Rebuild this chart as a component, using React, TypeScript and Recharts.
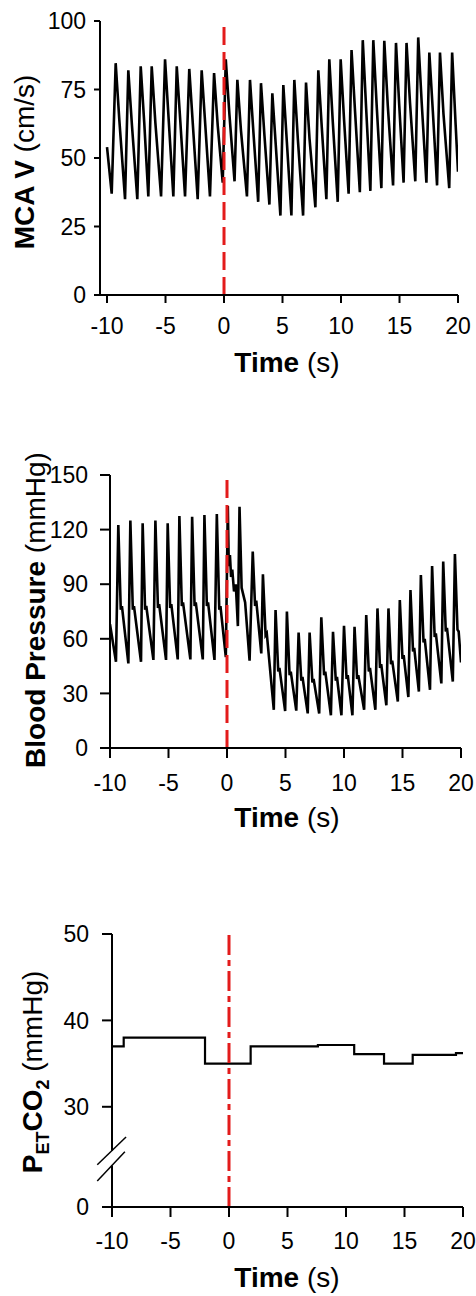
import { LineChart, Line, XAxis, YAxis, ReferenceLine } from 'recharts'

// time axis shared by the three panels
const timeTicks = [-10, -5, 0, 5, 10, 15, 20]
const mcaTicks = [0, 25, 50, 75, 100]
const bpTicks = [0, 30, 60, 90, 120, 150]
// the lowest tick sits below the axis break and is labelled "0"
const co2Ticks = [18.4, 30, 40, 50]

// MCA velocity trace (cm/s), [time s, value]
const mcaTrace: [number, number][] = [
  [-10, 54], [-9.6, 37], [-9.26, 84.6], [-8.95, 64], [-8.46, 35], [-8.18, 82], [-7.87, 62],
  [-7.41, 35], [-7.12, 83.5], [-6.82, 63], [-6.47, 36], [-6.18, 83.5], [-5.87, 63],
  [-5.38, 36], [-5.04, 86], [-4.73, 64], [-4.33, 36], [-4.04, 83.5], [-3.73, 63],
  [-3.33, 36], [-2.97, 82.5], [-2.66, 62], [-2.25, 35], [-1.91, 82], [-1.6, 62],
  [-1.2, 36], [-0.85, 81], [-0.54, 62], [-0.11, 41], [0.15, 86], [0.46, 66],
  [0.9, 41.5], [1.14, 78.5], [1.45, 60], [1.96, 36], [2.22, 78.5], [2.52, 59],
  [2.92, 34], [3.16, 77.3], [3.46, 58], [3.88, 33], [4.13, 73.6], [4.42, 55],
  [4.82, 29], [5.07, 76.6], [5.37, 56], [5.76, 29], [6.01, 78.5], [6.31, 57],
  [6.76, 29], [7.01, 77.5], [7.31, 57], [7.81, 32], [8.06, 82], [8.36, 61],
  [8.75, 35], [9.0, 86], [9.3, 63], [9.72, 34], [9.97, 86], [10.26, 64],
  [10.65, 37], [10.9, 89.4], [11.2, 67], [11.61, 37.5], [11.86, 93], [12.15, 68],
  [12.51, 38], [12.76, 93], [13.05, 69], [13.45, 39], [13.7, 92.8], [14.0, 69],
  [14.45, 40], [14.7, 92], [14.98, 69], [15.35, 41], [15.6, 92], [15.9, 70],
  [16.35, 41.5], [16.6, 94], [16.9, 70], [17.3, 41], [17.55, 88.5], [17.85, 67],
  [18.21, 40], [18.46, 88.5], [18.76, 66], [19.25, 39], [19.5, 88.5], [19.8, 62],
  [20, 45],
]

// blood pressure trace (mmHg), [time s, value]
const bpTrace: [number, number][] = [
  [-10, 68], [-9.49, 47.4], [-9.29, 122.5], [-9.08, 76], [-8.98, 78],
  [-8.43, 46.5], [-8.26, 125], [-8.05, 76], [-7.95, 78],
  [-7.35, 47.4], [-7.21, 123.5], [-7.0, 76], [-6.9, 78],
  [-6.29, 48.4], [-6.12, 125], [-5.9, 77], [-5.8, 79],
  [-5.21, 48.4], [-5.07, 123.5], [-4.86, 77], [-4.76, 79],
  [-4.21, 48.7], [-4.07, 127.5], [-3.86, 78], [-3.76, 80],
  [-3.13, 48.7], [-2.98, 127], [-2.77, 78], [-2.67, 80],
  [-2.07, 48.7], [-1.93, 128], [-1.72, 78], [-1.62, 80],
  [-1.07, 48.4], [-0.87, 128.6], [-0.66, 76], [-0.56, 78],
  [-0.1, 50], [0.07, 133], [0.15, 100], [0.25, 106], [0.35, 94], [0.45, 98],
  [0.6, 86], [0.75, 90], [0.93, 67], [1.07, 132.6], [1.25, 88], [1.4, 84],
  [1.55, 80], [1.93, 48], [2.2, 108], [2.4, 78], [2.5, 81],
  [2.93, 52], [3.07, 95.4], [3.3, 62], [3.4, 63],
  [4.0, 21], [4.15, 75.8], [4.38, 42], [4.48, 44],
  [4.97, 20.3], [5.12, 75], [5.35, 40], [5.45, 42],
  [5.92, 20.5], [6.12, 63.4], [6.35, 37], [6.45, 39],
  [6.9, 19], [7.06, 63.4], [7.3, 36], [7.4, 38],
  [7.88, 19], [8.06, 71.8], [8.3, 40], [8.4, 42],
  [8.88, 18], [9.06, 63.9], [9.3, 37], [9.4, 39],
  [9.78, 18], [10.0, 67.2], [10.22, 38], [10.32, 40],
  [10.72, 18], [10.9, 66.6], [11.12, 38], [11.22, 40],
  [11.72, 21], [11.9, 73], [12.12, 42], [12.22, 44],
  [12.68, 21], [12.86, 76.7], [13.08, 44], [13.18, 46],
  [13.62, 23.5], [13.8, 76.7], [14.02, 46], [14.12, 48],
  [14.6, 25.5], [14.77, 81.3], [15.0, 49], [15.1, 51],
  [15.5, 28], [15.68, 86.8], [15.9, 53], [16.0, 55],
  [16.4, 31], [16.57, 95], [16.8, 58], [16.9, 60],
  [17.35, 32], [17.53, 100], [17.75, 61], [17.85, 63],
  [18.32, 35.5], [18.48, 102.4], [18.7, 64], [18.8, 66],
  [19.3, 36.5], [19.48, 106.6], [19.7, 65], [19.8, 64], [20, 47],
]

// end-tidal CO2 (mmHg), breath-by-breath steps
const co2Trace: [number, number][] = [
  [-10, 37], [-9.0, 38], [-2.05, 35], [1.85, 37], [7.6, 37.15],
  [10.7, 36.1], [13.25, 35], [15.7, 36], [19.4, 36.2], [20, 36.2],
]

const font = '"Liberation Sans", Arial, sans-serif'
const RED = '#e31b1b'

const toRows = (pts: [number, number][]) => pts.map(([t, v]) => ({ t, v }))

const tickStyle = { fontSize: 23, fill: '#000', fontFamily: font }
const axisStroke = { stroke: '#000', strokeWidth: 2 }

function Title({ x, y, vertical = false, children }: any) {
  return (
    <text
      x={x}
      y={y}
      textAnchor="middle"
      fontFamily={font}
      fontSize={28}
      fill="#000"
      transform={vertical ? `rotate(-90 ${x} ${y})` : undefined}
    >
      {children}
    </text>
  )
}

const timeTitle = (y: number) => () => (
  <Title x={287} y={y}>
    <tspan fontWeight="bold">Time</tspan>
    <tspan> (s)</tspan>
  </Title>
)

export default function App() {
  return (
    <div style={{ position: 'absolute', left: 0, top: 0, width: 476, height: 1296, background: '#fff' }}>
      <div style={{ position: 'absolute', left: 0, top: 0 }}>
        <LineChart width={476} height={400} data={toRows(mcaTrace)} margin={{ top: 21, right: 18, bottom: 0, left: 0 }}>
          <XAxis
            dataKey="t"
            type="number"
            domain={[-10.6, 20]}
            ticks={timeTicks}
            interval={0}
            allowDataOverflow
            height={105}
            tickSize={8}
            tickMargin={15}
            tick={tickStyle}
            axisLine={axisStroke}
            tickLine={axisStroke}
            label={timeTitle(372)}
          />
          <YAxis
            type="number"
            domain={[0, 100]}
            ticks={mcaTicks}
            interval={0}
            width={100}
            tickSize={6}
            tickMargin={8}
            tick={tickStyle}
            axisLine={axisStroke}
            tickLine={axisStroke}
            label={() => (
              <Title x={34} y={162} vertical>
                <tspan fontWeight="bold">MCA V</tspan>
                <tspan> (cm/s)</tspan>
              </Title>
            )}
          />
          <Line dataKey="v" type="linear" stroke="#000" strokeWidth={2.6} dot={false} isAnimationActive={false} />
          <ReferenceLine x={0} stroke={RED} strokeWidth={3} strokeDasharray="18 7" />
        </LineChart>
      </div>

      <div style={{ position: 'absolute', left: 0, top: 440 }}>
        <LineChart width={476} height={420} data={toRows(bpTrace)} margin={{ top: 35, right: 15, bottom: 0, left: 0 }}>
          <XAxis
            dataKey="t"
            type="number"
            domain={[-10, 20]}
            ticks={timeTicks}
            interval={0}
            allowDataOverflow
            height={112}
            tickSize={10}
            tickMargin={17}
            tick={tickStyle}
            axisLine={axisStroke}
            tickLine={axisStroke}
            label={timeTitle(387)}
          />
          <YAxis
            type="number"
            domain={[0, 150]}
            ticks={bpTicks}
            interval={0}
            width={110}
            tickSize={10}
            tickMargin={12}
            tick={tickStyle}
            axisLine={axisStroke}
            tickLine={axisStroke}
            label={() => (
              <Title x={45} y={170} vertical>
                <tspan fontWeight="bold">Blood Pressure</tspan>
                <tspan> (mmHg)</tspan>
              </Title>
            )}
          />
          <Line dataKey="v" type="linear" stroke="#000" strokeWidth={2.6} dot={false} isAnimationActive={false} />
          <ReferenceLine x={0} stroke={RED} strokeWidth={3} strokeDasharray="18 7" />
        </LineChart>
      </div>

      <div style={{ position: 'absolute', left: 0, top: 900 }}>
        <LineChart width={476} height={396} data={toRows(co2Trace)} margin={{ top: 34, right: 13, bottom: 0, left: 0 }}>
          <XAxis
            dataKey="t"
            type="number"
            domain={[-10, 20]}
            ticks={timeTicks}
            interval={0}
            allowDataOverflow
            height={89}
            tickSize={10}
            tickMargin={16}
            tick={tickStyle}
            axisLine={axisStroke}
            tickLine={axisStroke}
            label={timeTitle(387)}
          />
          <YAxis
            type="number"
            domain={[18.4, 50]}
            ticks={co2Ticks}
            interval={0}
            allowDataOverflow
            width={112}
            tickSize={10}
            tickMargin={13}
            tick={tickStyle}
            tickFormatter={(v: number) => (v < 20 ? '0' : String(v))}
            axisLine={false}
            tickLine={axisStroke}
            label={() => (
              <Title x={42} y={172} vertical>
                <tspan fontWeight="bold">P</tspan>
                <tspan fontWeight="bold" fontSize={18} dy={7}>ET</tspan>
                <tspan fontWeight="bold" dy={-7}>CO</tspan>
                <tspan fontWeight="bold" fontSize={18} dy={7}>2</tspan>
                <tspan dy={-7}> (mmHg)</tspan>
              </Title>
            )}
          />
          {/* broken y axis: two pieces plus the // marks */}
          <ReferenceLine segment={[{ x: -10, y: 50 }, { x: -10, y: 24.9 }]} stroke="#000" strokeWidth={2} ifOverflow="visible" />
          <ReferenceLine segment={[{ x: -10, y: 23.2 }, { x: -10, y: 18.4 }]} stroke="#000" strokeWidth={2} ifOverflow="visible" />
          <ReferenceLine segment={[{ x: -11.26, y: 23.3 }, { x: -8.8, y: 26.5 }]} stroke="#000" strokeWidth={1.5} ifOverflow="visible" />
          <ReferenceLine segment={[{ x: -11.26, y: 21.4 }, { x: -8.9, y: 24.8 }]} stroke="#000" strokeWidth={1.5} ifOverflow="visible" />
          <Line dataKey="v" type="stepAfter" stroke="#000" strokeWidth={2.2} dot={false} isAnimationActive={false} />
          <ReferenceLine x={0} stroke={RED} strokeWidth={3} strokeDasharray="20 5 6 5" />
        </LineChart>
      </div>
    </div>
  )
}
